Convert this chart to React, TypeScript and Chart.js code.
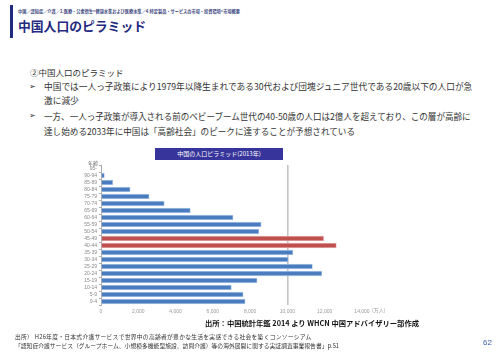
import React, { useEffect, useRef } from "react";
import { Chart, registerables } from "chart.js";

Chart.register(...registerables);

const ageGroups = ["95-", "90-94", "85-89", "80-84", "75-79", "70-74", "65-69", "60-64", "55-59", "50-54", "45-49", "40-44", "35-39", "30-34", "25-29", "20-24", "15-19", "10-14", "5-9", "0-4"];
const population = [40, 180, 630, 1560, 2580, 3390, 4790, 7080, 8590, 8460, 11940, 12620, 10290, 10040, 11340, 11840, 8370, 6990, 7620, 7730];
const highlightGroups = ["45-49", "40-44"];
const xTicks = [0, 2000, 4000, 6000, 8000, 10000, 12000, 14000];

const JP = '"Noto Sans CJK JP", "Noto Sans", sans-serif';

const abs = (l: number, t: number, extra: React.CSSProperties = {}): React.CSSProperties => ({
  position: "absolute",
  left: l,
  top: t,
  whiteSpace: "nowrap",
  fontFamily: JP,
  lineHeight: 1,
  ...extra,
});

function PyramidChart() {
  const ref = useRef<HTMLCanvasElement | null>(null);
  useEffect(() => {
    if (!ref.current) return;
    const bg = ageGroups.map((g) => (highlightGroups.includes(g) ? "#c0504d" : "#4a7cbf"));
    const bd = ageGroups.map((g) => (highlightGroups.includes(g) ? "#e3a9a7" : "#a9c3e6"));
    const chart = new Chart(ref.current, {
      type: "bar",
      data: {
        labels: ageGroups,
        datasets: [
          {
            data: population,
            backgroundColor: bg,
            borderColor: bd,
            borderWidth: 0.8,
            barThickness: 4.6,
          },
        ],
      },
      options: {
        indexAxis: "y",
        animation: false,
        responsive: false,
        maintainAspectRatio: false,
        layout: { padding: { top: 25, right: 48, left: 0, bottom: 0 } },
        plugins: { legend: { display: false }, tooltip: { enabled: false }, title: { display: false } },
        scales: {
          x: {
            min: 0,
            max: 14000,
            afterFit: (s: any) => {
              s.height = 15;
            },
            afterBuildTicks: (s: any) => {
              s.ticks = xTicks.map((v) => ({ value: v }));
            },
            border: { display: false },
            grid: {
              drawTicks: false,
              color: (ctx: any) => (ctx.tick && ctx.tick.value === 10000 ? "#c4c4c4" : "rgba(0,0,0,0)"),
              lineWidth: 1.6,
            },
            ticks: {
              padding: 4,
              color: "#999",
              font: { size: 5, family: "Liberation Sans" },
              callback: (v: any) => Number(v).toLocaleString("en-US"),
            },
          },
          y: {
            afterFit: (s: any) => {
              s.width = 41;
            },
            border: { display: true, color: "#b0b0b0", width: 1 },
            grid: { drawOnChartArea: false, tickLength: 2, color: "#b0b0b0" },
            ticks: {
              autoSkip: false,
              padding: 2,
              color: "#888",
              font: { size: 5, family: "Liberation Sans" },
            },
          },
        },
      },
    });
    return () => chart.destroy();
  }, []);
  return <canvas ref={ref} width={350} height={180} style={{ position: "absolute", left: 60, top: 140, width: 350, height: 180 }} />;
}

export default function App() {
  return (
    <div style={{ position: "fixed", left: 0, top: 0, width: 500, height: 353, background: "#fff", overflow: "hidden", color: "#222" }}>
      <div style={{ position: "absolute", left: 10, top: 5, width: 3, height: 33, background: "#1f2a80" }} />
      <div style={abs(18, 9, { fontSize: 4.2, color: "#3c4880", fontWeight: 700 })}>
        中国／認知症／介護／2.医療・公衆衛生&gt;健康水準および医療水準／4.特定製品・サービスの市場・投資環境&gt;市場概要
      </div>
      <div style={abs(18, 20, { fontSize: 12.8, color: "#1f2a80", fontWeight: 700 })}>中国人口のピラミッド</div>

      <div style={abs(30, 68, { fontSize: 8.5, color: "#333" })}>②中国人口のピラミッド</div>
      <div style={abs(29, 83, { fontSize: 8, color: "#333", fontFamily: "DejaVu Sans" })}>➢</div>
      <div style={abs(44, 83, { fontSize: 8.7, color: "#333" })}>
        中国では一人っ子政策により1979年以降生まれである30代および団塊ジュニア世代である20歳以下の人口が急
      </div>
      <div style={abs(44, 97, { fontSize: 8.7, color: "#333" })}>激に減少</div>
      <div style={abs(29, 112, { fontSize: 8, color: "#333", fontFamily: "DejaVu Sans" })}>➢</div>
      <div style={abs(44, 112, { fontSize: 8.55, color: "#333" })}>
        一方、一人っ子政策が導入される前のベビーブーム世代の40-50歳の人口は2億人を超えており、この層が高齢に
      </div>
      <div style={abs(44, 127, { fontSize: 8.6, color: "#333" })}>達し始める2033年に中国は「高齢社会」のピークに達することが予想されている</div>

      <div
        style={abs(155, 148, {
          width: 128,
          height: 12,
          background: "#37359b",
          color: "#fff",
          fontSize: 6,
          display: "flex",
          alignItems: "center",
          justifyContent: "center",
        })}
      >
        中国の人口ピラミッド(2013年)
      </div>

      <PyramidChart />
      <div style={abs(88, 160, { fontSize: 5, color: "#666" })}>年齢</div>
      <div style={abs(372, 307, { fontSize: 5, color: "#999" })}>(万人)</div>

      <div style={abs(205, 320, { fontSize: 7.3, color: "#111", fontWeight: 700 })}>
        出所：中国統計年鑑 2014 より WHCN 中国アドバイザリー部作成
      </div>

      <div style={abs(15, 334, { fontSize: 5.8, color: "#333", letterSpacing: 0.25 })}>
        出所） H26年度・日本式介護サービスで世界中の高齢者が豊かな生活を実感できる社会を築くコンソーシアム
      </div>
      <div style={abs(15, 343, { fontSize: 5.8, color: "#333" })}>
        「認知症介護サービス（グループホーム、小規模多機能型施設、訪問介護）等の海外展開に関する実証調査事業報告書」p.51
      </div>
      <div style={abs(483, 339, { fontSize: 8, color: "#3a64a8", fontFamily: "Liberation Sans" })}>62</div>
    </div>
  );
}
